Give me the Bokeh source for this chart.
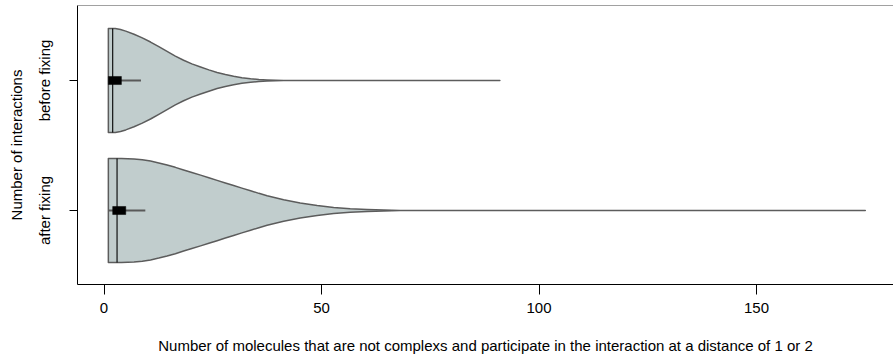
import numpy as np
from bokeh.plotting import figure
from bokeh.models import Range1d, FixedTicker, Span
from bokeh.embed import file_html
from bokeh.resources import INLINE

# ---- data ----
labels = ["after fixing", "before fixing"]
positions = [1, 2]

# density profile (value, relative half-width) for each violin
before_vals = [1.0, 2.6, 3.8, 5.0, 6.9, 8.8, 10.7, 12.6, 14.5, 16.4, 18.3, 20.2, 22.2,
               24.1, 26.0, 27.9, 29.8, 31.7, 33.7, 35.6, 37.5, 39.4, 41.3, 91.0]
before_dens = [1.00, 1.00, 0.98, 0.95, 0.89, 0.82, 0.74, 0.65, 0.56, 0.47, 0.39, 0.32, 0.26,
               0.205, 0.155, 0.115, 0.08, 0.053, 0.033, 0.018, 0.009, 0.003, 0.0, 0.0]

after_vals = [1.0, 4.0, 6.9, 8.8, 10.7, 12.6, 14.5, 16.4, 18.3, 20.2, 22.2, 24.1, 26.0,
              27.9, 29.8, 31.7, 33.7, 35.6, 37.5, 39.4, 41.3, 45.1, 49.0, 52.8, 56.6,
              60.5, 64.3, 68.1, 175.0]
after_dens = [1.00, 1.00, 0.99, 0.975, 0.95, 0.915, 0.875, 0.83, 0.78, 0.73, 0.68, 0.63, 0.58,
              0.53, 0.48, 0.43, 0.38, 0.33, 0.285, 0.245, 0.205, 0.145, 0.095, 0.058, 0.034,
              0.02, 0.009, 0.0, 0.0]

# box statistics: q1, median, q3, lower whisker, upper whisker
q1 = [2, 1]
median = [3, 2]
q3 = [5, 4]
whisk_lo = [1, 1]
whisk_hi = [9.5, 8.5]

x_ticks = [0, 50, 100, 150]

profiles = [(after_vals, after_dens), (before_vals, before_dens)]

# ---- figure ----
y_lo, y_hi = 0.4308, 2.577
p = figure(width=893, height=356, output_backend="svg", toolbar_location=None,
           x_range=Range1d(-6.092, 181.49), y_range=Range1d(y_lo, y_hi),
           min_border_left=77, min_border_right=0, min_border_top=5,
           min_border_bottom=72)
p.grid.visible = False
p.outline_line_color = None
p.background_fill_color = "white"
p.border_fill_color = "white"

HW = 0.4
fill = "#C1CDCD"
edge = "#5c5c5c"

for pos, (vals, dens), a, m, b, wl, wh in zip(positions, profiles, q1, median, q3,
                                              whisk_lo, whisk_hi):
    vals = list(vals)
    dens = list(dens)
    xs = vals + vals[::-1]
    ys = [pos + HW * d for d in dens] + [pos - HW * d for d in dens[::-1]]
    p.patch(xs, ys, fill_color=fill, line_color=edge, line_width=1.5,
            line_join="round")
    mh = HW * float(np.interp(m, vals, dens))
    p.segment(x0=[m], y0=[pos - mh], x1=[m], y1=[pos + mh], line_color="black",
              line_width=1.1)
    p.segment(x0=[wl], y0=[pos], x1=[wh], y1=[pos], line_color="#5a5a5a", line_width=2)
    p.quad(left=[a], right=[b], bottom=[pos - 0.031], top=[pos + 0.031],
           fill_color="black", line_color="black", line_width=0.5)

# top border of the box
p.add_layout(Span(location=y_hi, dimension="width", line_color="#444444", line_width=1))

FONT = "Liberation Sans"
FS = "15px"

xa = p.xaxis[0]
xa.ticker = FixedTicker(ticks=x_ticks)
xa.major_tick_out = 10
xa.major_tick_in = 0
xa.minor_tick_line_color = None
xa.axis_line_color = "black"
xa.major_tick_line_color = "black"
xa.major_label_standoff = 8
xa.major_label_text_font = FONT
xa.major_label_text_font_size = FS
xa.major_label_text_color = "black"
xa.axis_label = "Number of molecules that are not complexs and participate in the interaction at a distance of 1 or 2"
xa.axis_label_text_font = FONT
xa.axis_label_text_font_size = FS
xa.axis_label_text_font_style = "normal"
xa.axis_label_text_color = "black"
xa.axis_label_standoff = 21

ya = p.yaxis[0]
ya.ticker = FixedTicker(ticks=positions)
ya.major_label_overrides = {pos: lab for pos, lab in zip(positions, labels)}
ya.major_label_orientation = "vertical"
ya.major_tick_out = 8
ya.major_tick_in = 0
ya.minor_tick_line_color = None
ya.axis_line_color = "black"
ya.major_tick_line_color = "black"
ya.major_label_standoff = 16
ya.major_label_text_font = FONT
ya.major_label_text_font_size = FS
ya.major_label_text_color = "black"
ya.axis_label = "Number of interactions"
ya.axis_label_text_font = FONT
ya.axis_label_text_font_size = FS
ya.axis_label_text_font_style = "normal"
ya.axis_label_text_color = "black"
ya.axis_label_standoff = 9

open("out.html", "w").write(file_html(p, INLINE))
